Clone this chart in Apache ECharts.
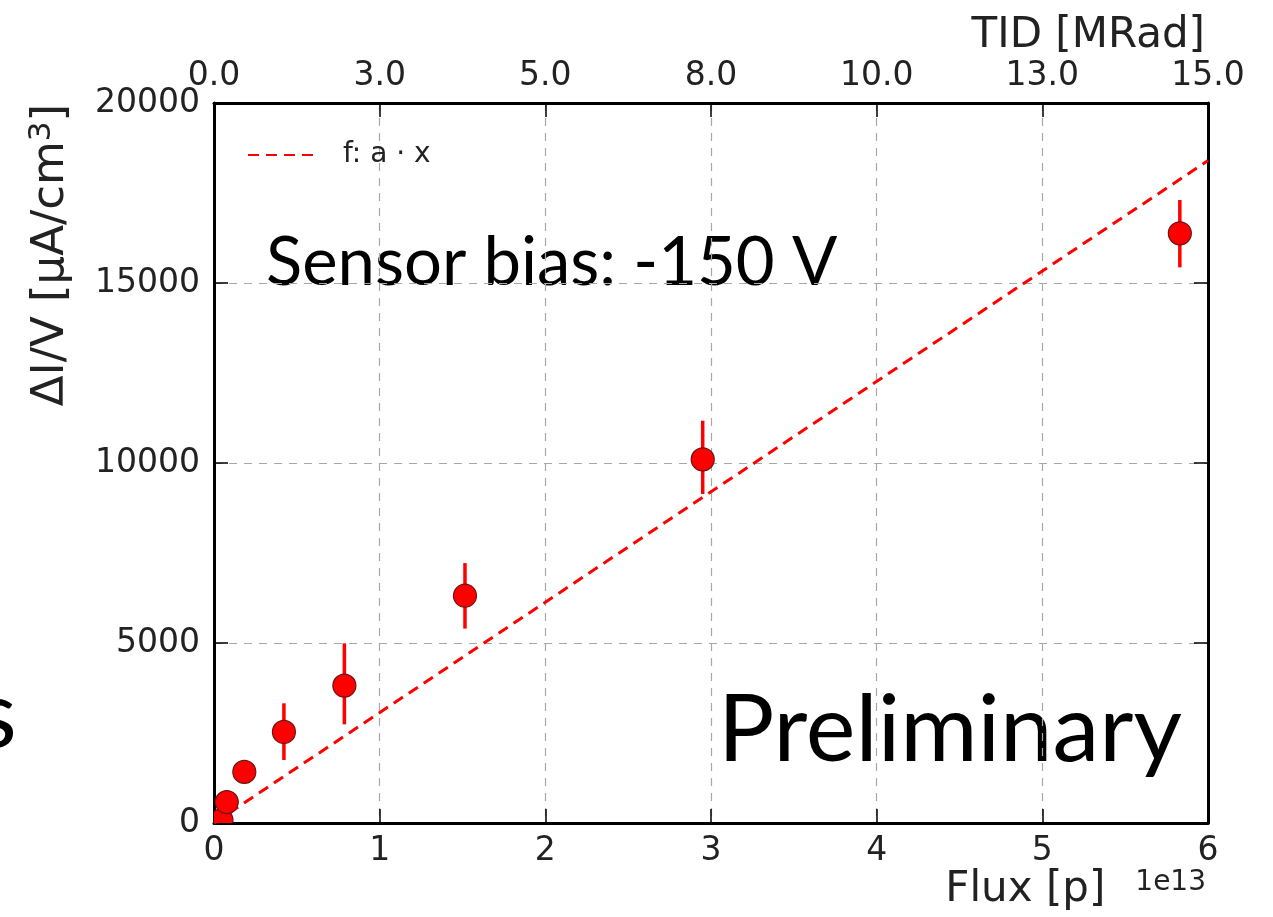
<!DOCTYPE html>
<html>
<head>
<meta charset="utf-8">
<script src="https://cdn.jsdelivr.net/npm/echarts@6/dist/echarts.min.js"></script>
<style>
html,body{margin:0;padding:0;background:#fff;}
#chart{width:1273px;height:917px;}
</style>
</head>
<body>
<div id="chart"></div>
<script>
// ---- data ----
const fluxX   = [0.045, 0.077, 0.183, 0.422, 0.787, 1.515, 2.95, 5.83];  // x1e13 p
const ivY     = [80, 580, 1420, 2530, 3815, 6314, 10100, 16380];         // uA/cm^3
const errLow  = [0, 150, 1200, 1750, 2740, 5400, 9140, 15435];
const errHigh = [300, 850, 1650, 3325, 4990, 7220, 11175, 17306];
const fitX    = [0, 6];
const fitY    = [0, 18400];
const xTicks  = [0, 1, 2, 3, 4, 5, 6];
const tidLabels = ['0.0', '3.0', '5.0', '8.0', '10.0', '13.0', '15.0'];
const yTicks  = [0, 5000, 10000, 15000, 20000];

const chart = echarts.init(document.getElementById('chart'));
const tickFont = 'DejaVu Sans';
const red = '#ff0000';

const pointData = fluxX.map((x, i) => [x, ivY[i], errLow[i], errHigh[i]]);
const fitData = fitX.map((x, i) => [x, fitY[i]]);

const gridLine = {show: true, lineStyle: {color: '#a8a8a8', width: 1.2, type: [8, 7]}};
const axLine = {show: true, onZero: false, lineStyle: {color: '#000', width: 3}};
const inTick = {show: true, inside: true, length: 14, lineStyle: {color: '#000', width: 1.5}};

function clipRect(params) {
  const c = params.coordSys;
  return {type: 'rect', shape: {x: c.x, y: c.y, width: c.width, height: c.height}};
}

const option = {
  backgroundColor: '#fff',
  animation: false,
  grid: {left: 214, right: 65, top: 103, bottom: 94, containLabel: false},
  legend: {
    show: true,
    left: 242, top: 136,
    data: ['f: a · x'],
    itemWidth: 68, itemHeight: 14,
    itemStyle: {color: 'rgba(0,0,0,0)', borderWidth: 0},
    textStyle: {fontFamily: tickFont, fontSize: 28, color: '#222', padding: [0, 0, 0, 22]},
    selectedMode: false
  },
  xAxis: [
    {
      type: 'value', position: 'bottom', min: xTicks[0], max: xTicks[xTicks.length - 1], interval: 1,
      axisLine: axLine, axisTick: inTick, splitLine: gridLine,
      axisLabel: {fontFamily: tickFont, fontSize: 33, color: '#222', margin: 12},
      name: 'Flux [p]{e|1e13}', nameLocation: 'end', nameGap: 0,
      nameTextStyle: {
        fontFamily: tickFont, fontSize: 42, color: '#222', align: 'right', verticalAlign: 'top',
        padding: [46, 2, 0, 0],
        rich: {e: {fontFamily: tickFont, fontSize: 28, color: '#222', padding: [0, 0, 14, 30]}}
      }
    },
    {
      type: 'value', position: 'top', min: xTicks[0], max: xTicks[xTicks.length - 1], interval: 1,
      axisLine: axLine, axisTick: inTick, splitLine: {show: false},
      axisLabel: {
        fontFamily: tickFont, fontSize: 33, color: '#222', margin: 10,
        formatter: (v) => tidLabels[xTicks.indexOf(Math.round(v))] || ''
      },
      name: 'TID [MRad]', nameLocation: 'end', nameGap: 0,
      nameTextStyle: {
        fontFamily: tickFont, fontSize: 42, color: '#222', align: 'right', verticalAlign: 'bottom',
        padding: [0, 3, 46, 0]
      }
    }
  ],
  yAxis: [
    {
      type: 'value', position: 'left', min: yTicks[0], max: yTicks[yTicks.length - 1], interval: 5000,
      axisLine: axLine, axisTick: inTick, splitLine: gridLine,
      axisLabel: {fontFamily: tickFont, fontSize: 33, color: '#222', margin: 14, formatter: (v) => String(v)}
    },
    {
      type: 'value', position: 'right', min: yTicks[0], max: yTicks[yTicks.length - 1], interval: 5000,
      axisLine: axLine, axisTick: inTick, splitLine: {show: false}, axisLabel: {show: false}
    }
  ],
  graphic: [
    {
      type: 'text', left: 26, top: 104, rotation: Math.PI / 2, originX: 0, originY: 0,
      style: {
        text: 'ΔI/V [μA/cm{s|3}]', fontFamily: tickFont, fontSize: 45, fill: '#222',
        rich: {s: {fontFamily: tickFont, fontSize: 31, fill: '#222', padding: [0, 0, 20, 0]}}
      }
    },
    {
      type: 'text', left: 266, top: 230,
      style: {text: 'Sensor bias: -150 V', fontFamily: 'Lato', fontWeight: 400, fontSize: 67, fill: '#000'}
    },
    {
      type: 'text', left: 718, top: 684,
      style: {text: 'Preliminary', fontFamily: 'Lato', fontWeight: 400, fontSize: 94, fill: '#000'}
    },
    {
      type: 'text', left: -24, top: 670,
      style: {text: 's', fontFamily: 'Lato', fontWeight: 400, fontSize: 94, fill: '#000'}
    }
  ],
  series: [
    {
      name: 'f: a · x', type: 'line', data: fitData, symbol: 'none', z: 3,
      lineStyle: {color: red, width: 3, type: [11, 7]},
      itemStyle: {color: red}
    },
    {
      name: 'data', type: 'custom', z: 4,
      data: pointData,
      encode: {x: 0, y: [1, 2, 3]},
      renderItem: (params, api) => {
        const x = api.value(0);
        const c = api.coord([x, api.value(1)]);
        const lo = api.coord([x, api.value(2)]);
        const hi = api.coord([x, api.value(3)]);
        return {
          type: 'group',
          clipPath: clipRect(params),
          children: [
            {type: 'line', shape: {x1: lo[0], y1: lo[1], x2: hi[0], y2: hi[1]},
             style: {stroke: red, lineWidth: 3.5}},
            {type: 'circle', shape: {cx: c[0], cy: c[1], r: 11.5},
             style: {fill: red, stroke: '#6e1414', lineWidth: 1.2}}
          ]
        };
      }
    }
  ]
};
chart.setOption(option);
</script>
</body>
</html>
